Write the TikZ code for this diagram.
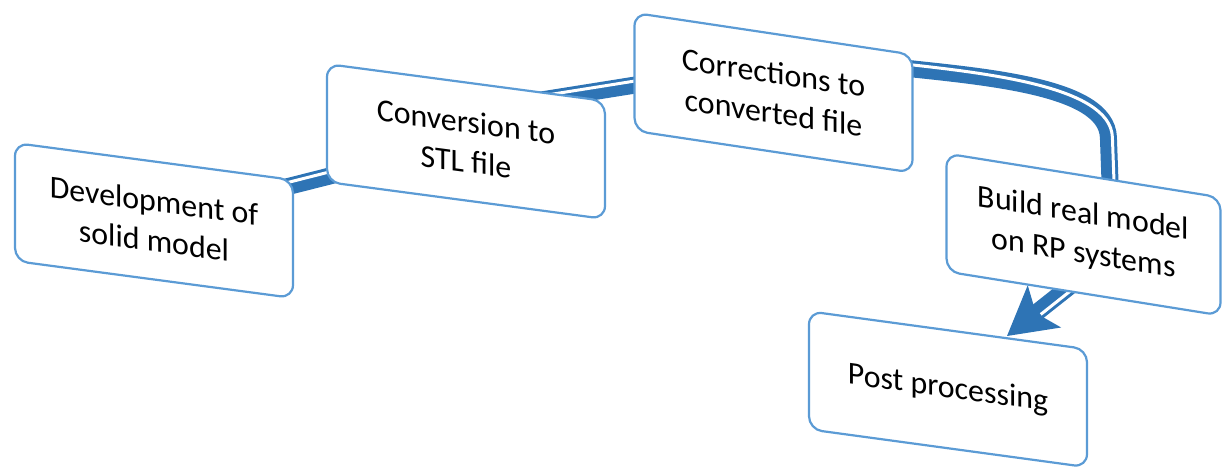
\documentclass[tikz,border=0pt]{standalone}
\usepackage{fontspec}
\setmainfont{Carlito}
\usetikzlibrary{arrows.meta,calc,backgrounds}
\definecolor{boxblue}{RGB}{91,155,213}
\definecolor{linkblue}{RGB}{46,116,181}
\begin{document}
\begin{tikzpicture}[x=1bp,y=1bp,
  stepbox/.style={draw=boxblue, line width=2.2bp, fill=white, rounded corners=13bp,
    minimum width=278bp, minimum height=118bp, inner sep=0pt, align=center,
    font=\fontsize{32}{40}\selectfont, transform shape},
  band/.style={draw=linkblue, line width=17bp},
  stripe/.style={draw=white, line width=3bp}]
\useasboundingbox (0,0) rectangle (1223,468);

% process steps, tilted boxes
\node[stepbox, shift={(154,247.5)}, yslant=-0.133] (dev) at (0,0) {Development of\\solid model};
\node[stepbox, shift={(466,326.5)}, yslant=-0.133] (conv) at (0,0) {Conversion to\\STL file};
\node[stepbox, shift={(773.5,375.25)}, yslant=-0.15] (corr) at (0,0) {Corrections to\\converted file};
\node[stepbox, minimum width=274bp, shift={(1083.5,233.5)}, yslant=-0.16] (build) at (0,0) {Build real model\\on RP systems};
\node[stepbox, shift={(948,78.75)}, yslant=-0.136] (post) at (0,0) {Post processing};

\begin{pgfonlayer}{background}
  % development -> conversion
  \path[band] (dev.center) -- (conv.center);
  \path[stripe] ($(dev.center)!4bp!90:(conv.center)$) -- ($(conv.center)!4bp!-90:(dev.center)$);

  % conversion -> corrections
  \coordinate (s2) at ([shift={(-65,0)}]conv.north east);
  \coordinate (e2) at ([shift={(25,-69.7)}]corr.north west);
  \path[band] (s2) -- (e2);
  \path[stripe] ($(s2)!4bp!90:(e2)$) -- ($(e2)!4bp!-90:(s2)$);

  % corrections -> build, bending down
  \coordinate (s3) at ([shift={(-22,-13)}]corr.north east);
  \coordinate (m3) at ([shift={(163,15)}]build.north west);
  \coordinate (e3) at ([shift={(165,-40)}]build.north west);
  \path[band] (s3) .. controls ($(s3)+(90,-10)$) and ($(m3)+(-2,52)$) .. (m3) -- (e3);
  \path[stripe] ($(s3)+(0.4,4)$) .. controls ($(s3)+(90.4,-6)$) and ($(m3)+(2,52)$) .. ($(m3)+(4,0)$) -- ($(e3)+(4,0)$);

  % build -> post processing, with arrow head
  \coordinate (s4) at ([shift={(133,-7)}]build.south west);
  \coordinate (t4) at ([shift={(199,-26)}]post.north west);
  \coordinate (q4) at ($(t4)!40bp!(s4)$);
  \path[band, -{Stealth[length=47bp,width=52bp,inset=10bp]}] (s4) -- (t4);
  \path[stripe] ($(s4)!4bp!90:(t4)$) -- ($(q4)!4bp!-90:(s4)$);
\end{pgfonlayer}
\end{tikzpicture}
\end{document}
